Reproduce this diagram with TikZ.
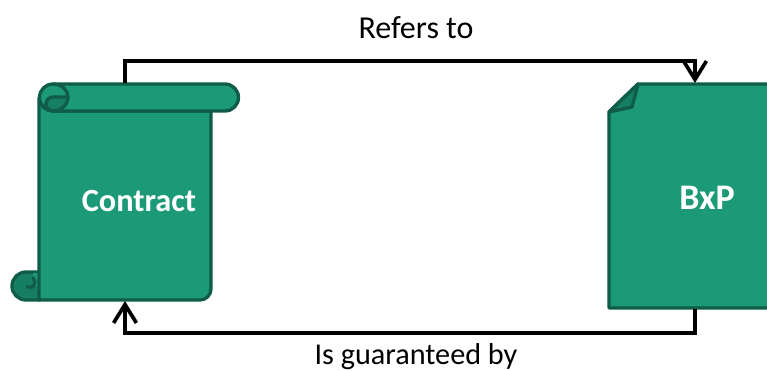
\documentclass[tikz,border=0pt]{standalone}
\usepackage{fontspec}
\setmainfont{Carlito}
\usetikzlibrary{arrows.meta}
\definecolor{sheetgreen}{HTML}{1C9A78}
\definecolor{foldgreen}{HTML}{167F62}
\definecolor{edgegreen}{HTML}{0F5C48}
\tikzset{
  sheet/.style={fill=sheetgreen, draw=edgegreen, line width=1.9pt, line join=round},
  fold/.style={fill=foldgreen, draw=edgegreen, line width=1.9pt, line join=round},
  curl/.style={draw=edgegreen, line width=1.9pt, line join=round},
  link/.style={draw=black, line width=1.8pt, -{Straight Barb[length=10.5pt,width=13pt,line width=2.1pt]}},
  caption/.style={font=\fontsize{18.2}{21}\selectfont},
  title/.style={font=\fontsize{18.4}{21}\selectfont\bfseries, text=white}
}
\begin{document}
\begin{tikzpicture}[x=0.02cm,y=-0.02cm]
                \useasboundingbox (0,0) rectangle (767,371);
                \draw[fold] (40,272) -- (26,272) arc (-90:-270:14) -- (40,300) -- cycle;
                \fill[sheetgreen] (33,273) -- (39,273) -- (39,286) -- (36,286) -- cycle;
                \draw[curl] (26,287) -- (33,287) -- (35,282) -- (33,277);
                \draw[sheet] (39,98) -- (39,300) -- (200,300) arc (90:0:11) -- (211,111) -- (53,111) -- cycle;
                \draw[sheet] (53,84) -- (225,84) arc (-90:90:13.5) -- (53,111) arc (90:270:13.5) -- cycle;
                \draw[fold] (68,97) -- (53,97) arc (-90:-270:7) arc (90:0:15 and 14) -- cycle;
                \draw[curl] (53,84) arc (-90:0:15 and 13);
                \draw[sheet] (767,84) -- (638,84) -- (609,112) -- (609,308) -- (767,308);
                \fill[sheetgreen] (767,85) rectangle (768,307);
                \draw[fold] (638,84) -- (632,107) -- (609,112) -- cycle;
                \node[caption] (refers) at (416,28) {Refers to};
                \node[caption,font=\fontsize{17.2}{21}\selectfont] (guaranteed) at (416,357) {Is guaranteed by};
                \node[title] (contract) at (139,201) {Contract};
                \node[title,font=\fontsize{20.5}{21}\selectfont\bfseries] (bxp) at (707,198) {BxP};
                \coordinate (contract top) at (125,83);
                \coordinate (contract bottom) at (125,301);
                \coordinate (bxp top) at (695,83);
                \coordinate (bxp bottom) at (695,309);
                \draw[link] (contract top) -- (125,61) -| (bxp top);
                \draw[link] (bxp bottom) -- (695,333) -| (contract bottom);
\end{tikzpicture}
\end{document}
